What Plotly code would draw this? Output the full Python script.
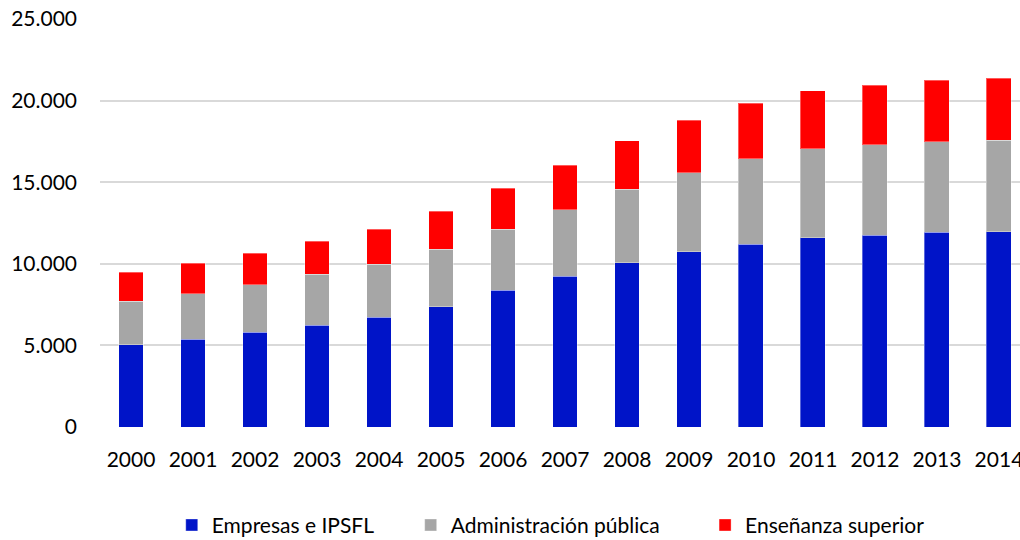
import plotly.graph_objects as go

years = ["2000", "2001", "2002", "2003", "2004", "2005", "2006", "2007",
         "2008", "2009", "2010", "2011", "2012", "2013", "2014"]
empresas = [5055, 5380, 5810, 6240, 6712, 7362, 8368, 9227, 10061, 10736,
            11190, 11595, 11742, 11945, 11963]
administracion = [2657, 2780, 2902, 3110, 3270, 3540, 3761, 4086, 4522, 4847,
                  5233, 5460, 5540, 5540, 5608]
ensenanza = [1760, 1865, 1926, 2043, 2147, 2331, 2515, 2724, 2945, 3215,
             3417, 3558, 3663, 3767, 3803]

series_names = ["Empresas e IPSFL", "Administración pública", "Enseñanza superior"]
series_values = [empresas, administracion, ensenanza]
colors = ["#0014C8", "#A6A6A6", "#FF0000"]
legend_ids = ["legend2", "legend3", "legend4"]

FONT = "Lato, 'Open Sans', sans-serif"

fig = go.Figure()
for name, vals, col, lg in zip(series_names, series_values, colors, legend_ids):
    fig.add_trace(go.Bar(
        x=years, y=vals, name=name, legend=lg,
        marker=dict(color=col, line=dict(color="rgba(255,255,255,0.35)", width=1)),
    ))

leg_common = dict(orientation="h", yanchor="middle", y=-0.241, xanchor="left",
                  font=dict(family=FONT, size=21, color="#000000"),
                  bgcolor="rgba(0,0,0,0)", borderwidth=0)

fig.update_layout(
    width=1020, height=540,
    margin=dict(l=100, r=0, t=19, b=113, autoexpand=False),
    barmode="stack", bargap=0.597,
    separators=",.",
    paper_bgcolor="white", plot_bgcolor="white",
    font=dict(family=FONT, size=21, color="#000000"),
    legend2=dict(x=0.078, **leg_common),
    legend3=dict(x=0.3377, **leg_common),
    legend4=dict(x=0.6577, **leg_common),
    xaxis=dict(type="category", range=[-0.5, 14.339], showgrid=False,
               showline=False, zeroline=False, ticks="",
               tickfont=dict(family=FONT, size=21, color="#000000"),
               ticklabelstandoff=18, automargin=False),
    yaxis=dict(range=[0, 25000], dtick=5000, tickformat=",d",
               showgrid=True, gridcolor="#D9D9D9", gridwidth=1.5,
               zeroline=False, showline=False, ticks="",
               tickfont=dict(family=FONT, size=21, color="#000000"),
               ticklabelstandoff=22, automargin=False),
)

fig.write_html("out.html",
               config={"displayModeBar": False},
               post_script="document.body.style.margin='0';document.body.style.overflow='hidden';")
